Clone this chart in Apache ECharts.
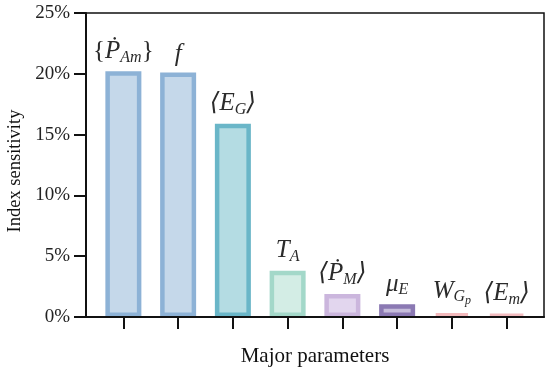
<!DOCTYPE html>
<html><head><meta charset="utf-8">
<script src="https://cdn.jsdelivr.net/npm/echarts@6/dist/echarts.min.js"></script>
<style>html,body{margin:0;padding:0;background:#fff}#c{width:550px;height:373px}</style>
</head><body><div id="c"></div>
<script>
const categories = ['PAm', 'f', 'EG', 'TA', 'PM', 'muE', 'WGp', 'Em'];
const values = [20.2, 20.1, 15.9, 3.8, 1.9, 1.05, 0.3, 0.2];
const labels = [
  '{{it|Ṗ}{sub|Am}}',
  '{it|f}',
  '{it|⟨E}{sub|G}{it|⟩}',
  '{it|T}{sub|A}',
  '{it|⟨Ṗ}{sub|M}{it|⟩}',
  '{it|μ}{sub|E}',
  '{it|W}{sub|G}{subsub|p}',
  '{it|⟨E}{sub|m}{it|⟩}'
];
const yTicks = [0, 5, 10, 15, 20, 25];
const borderColors = ['#8db2d6', '#8db2d6', '#6ab6c8', '#a3d8c9', '#cbb6dd', '#8b79b3', '#f3b9bc', '#f3bcc0'];
const fillColors = ['#c5d8ea', '#c5d8ea', '#b4dce3', '#d3ede5', '#e2d6ee', '#c6bddb', '#f8dcdd', '#f8dcdd'];

const serif = '"Liberation Serif","DejaVu Serif",serif';
const chart = echarts.init(document.getElementById('c'));
const richStyles = {
  it: {fontFamily: serif, fontStyle: 'italic', fontSize: 25, color: '#2b2b2b'},
  sub: {fontFamily: serif, fontStyle: 'italic', fontSize: 16, color: '#2b2b2b', padding: [12, 0, 0, 0]},
  subsub: {fontFamily: serif, fontStyle: 'italic', fontSize: 12, color: '#2b2b2b', padding: [20, 0, 0, 0]}
};

chart.setOption({
  animation: false,
  grid: [
    {left: 86, right: 6, top: 13, bottom: 56, outerBoundsMode: 'none', containLabel: false,
     show: true, borderColor: '#111', borderWidth: 1.5, backgroundColor: 'transparent'},
    {left: 96, right: 16, top: 13, bottom: 56, outerBoundsMode: 'none', containLabel: false}
  ],
  xAxis: [
    {gridIndex: 0, type: 'value', min: 0, max: 1, z: 10, axisLine: {show: true, lineStyle: {color: '#111', width: 2}},
     axisTick: {show: false}, axisLabel: {show: false}, splitLine: {show: false},
     name: 'Major parameters', nameLocation: 'middle', nameGap: 29,
     nameTextStyle: {fontFamily: serif, fontSize: 21, color: '#111'}},
    {gridIndex: 1, type: 'category', data: categories, axisLine: {show: false},
     axisTick: {show: true, alignWithLabel: true, length: 12, lineStyle: {color: '#111', width: 2}},
     axisLabel: {show: false}}
  ],
  yAxis: [
    {gridIndex: 0, type: 'value', min: 0, max: 25, interval: 5, z: 10,
     axisLine: {show: true, lineStyle: {color: '#111', width: 2}},
     axisTick: {show: true, inside: false, length: 12, lineStyle: {color: '#111', width: 2}},
     axisLabel: {fontFamily: serif, fontSize: 19, color: '#222', margin: 16, formatter: v => yTicks.includes(v) ? v + '%' : ''},
     splitLine: {show: false},
     name: 'Index sensitivity', nameLocation: 'middle', nameGap: 60, nameRotate: 90,
     nameTextStyle: {fontFamily: serif, fontSize: 18.5, color: '#111', padding: [0, 12, 0, 0]}},
    {gridIndex: 1, type: 'value', min: 0, max: 25, show: false}
  ],
  series: [{
    type: 'bar', xAxisIndex: 1, yAxisIndex: 1, barWidth: 36,
    data: values.map((v, i) => ({
      value: v,
      itemStyle: {color: fillColors[i], borderColor: borderColors[i], borderWidth: 4.5},
      label: {show: true, position: 'top', distance: 6, formatter: labels[i], rich: richStyles,
              fontFamily: serif, fontSize: 25, fontStyle: 'normal', color: '#2b2b2b'}
    }))
  }]
});
</script></body></html>
